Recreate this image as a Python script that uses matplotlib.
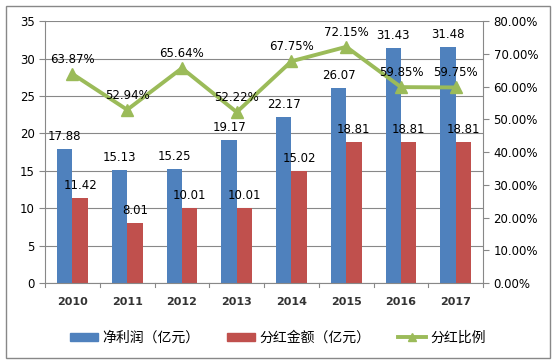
import numpy as np
import matplotlib.pyplot as plt
from matplotlib.lines import Line2D
from matplotlib.patches import Patch, Rectangle

plt.rcParams['font.family'] = ['DejaVu Sans', 'Noto Sans CJK SC']

years = ['2010', '2011', '2012', '2013', '2014', '2015', '2016', '2017']
net_profit = [17.88, 15.13, 15.25, 19.17, 22.17, 26.07, 31.43, 31.48]
dividend = [11.42, 8.01, 10.01, 10.01, 15.02, 18.81, 18.81, 18.81]
payout = [63.87, 52.94, 65.64, 52.22, 67.75, 72.15, 59.85, 59.75]

blue = '#4F81BD'
red = '#C0504D'
green = '#9BBB59'

fig = plt.figure(figsize=(5.56, 3.64), dpi=100)
fig.patches.append(Rectangle((0.011, 0.017), 0.978, 0.966, transform=fig.transFigure,
                             fill=False, edgecolor='#888888', linewidth=1))
ax = fig.add_axes([0.081, 0.222, 0.788, 0.72])

x = np.arange(len(years))
w = 0.28
b1 = ax.bar(x - w / 2, net_profit, w, color=blue, zorder=2)
b2 = ax.bar(x + w / 2, dividend, w, color=red, zorder=2)
for rect, v in zip(b1, net_profit):
    ax.text(rect.get_x() + rect.get_width() / 2, v + 0.8, f'{v:.2f}',
            ha='center', va='bottom', fontsize=8.5)
for rect, v in zip(b2, dividend):
    ax.text(rect.get_x() + rect.get_width() / 2, v + 0.8, f'{v:.2f}',
            ha='center', va='bottom', fontsize=8.5)

ax.set_xlim(-0.5, len(years) - 0.5)
ax.set_ylim(0, 35)
ax.set_yticks(range(0, 36, 5))
ax.set_xticks(x)
ax.set_xticklabels(years, fontsize=8, fontweight='bold', color='#333333')
ax.tick_params(axis='y', labelsize=8.5, length=4, color='#888888')
ax.tick_params(axis='x', length=0, pad=10)
ax.grid(axis='y', color='#888888', linewidth=0.8, zorder=0)
for s in ['top', 'right']:
    ax.spines[s].set_visible(False)
ax.spines['left'].set_color('#888888')
ax.spines['bottom'].set_color('#888888')
for xi in np.arange(-0.5, len(years), 1):
    ax.plot([xi, xi], [0, -0.5], color='#888888', linewidth=0.8, clip_on=False)

ax2 = ax.twinx()
ax2.plot(x, np.array(payout) / 100, color=green, linewidth=2.8, marker='^',
         markersize=9, zorder=3)
for xi, v in zip(x, payout):
    ax2.text(xi, v / 100 + 0.025, f'{v:.2f}%', ha='center', va='bottom', fontsize=8.5)
ax2.set_ylim(0, 0.8)
ax2.set_yticks(np.arange(0, 0.81, 0.1))
ax2.set_yticklabels([f'{t * 100:.2f}%' for t in np.arange(0, 0.81, 0.1)])
ax2.tick_params(axis='y', labelsize=8.5, length=4, color='#888888')
for s in ['top', 'left', 'bottom']:
    ax2.spines[s].set_visible(False)
ax2.spines['right'].set_color('#888888')

handles = [Patch(color=blue, label='净利润（亿元）'),
           Patch(color=red, label='分红金额（亿元）'),
           Line2D([0], [0], color=green, linewidth=2.8, marker='^', markersize=6,
                  label='分红比例')]
fig.legend(handles=handles, loc='center', bbox_to_anchor=(0.5, 0.072), ncol=3,
           frameon=False, fontsize=10, handlelength=2.0, handleheight=0.55,
           columnspacing=2.0, handletextpad=0.3)

fig.savefig('out.png', dpi=100)
